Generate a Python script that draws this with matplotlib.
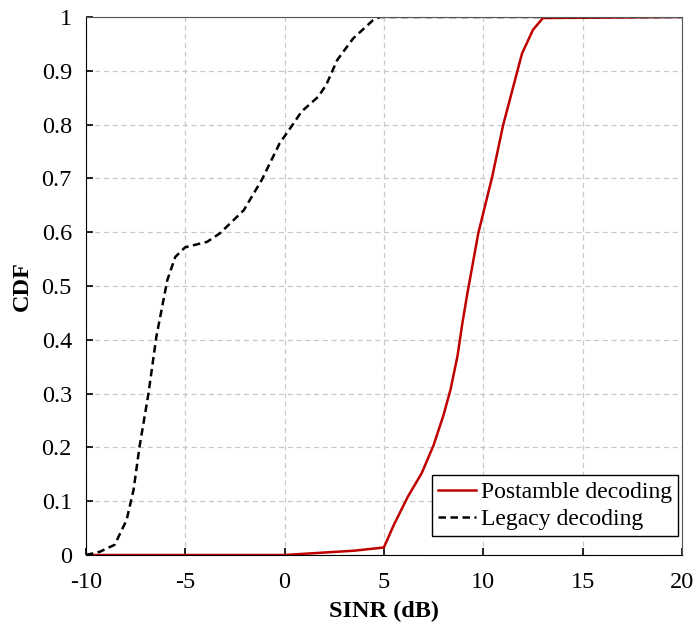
import numpy as np
import matplotlib
matplotlib.use('Agg')
import matplotlib.pyplot as plt

plt.rcParams['font.family'] = ['Liberation Serif', 'DejaVu Serif']
plt.rcParams['axes.unicode_minus'] = False

# postamble decoding CDF
post_x = [-10, 0, 3.5, 5.0, 5.5, 6.2, 6.9, 7.5, 8.0, 8.35, 8.7, 8.95, 9.2, 9.75, 10.45, 11.0, 11.6, 11.95, 12.5, 13.0, 20]
post_y = [0, 0, 0.008, 0.014, 0.056, 0.108, 0.152, 0.204, 0.26, 0.307, 0.369, 0.431, 0.486, 0.598, 0.703, 0.799, 0.883, 0.932, 0.976, 0.998, 1.0]

# legacy decoding CDF
leg_x = [-10, -9.3, -8.55, -7.95, -7.6, -7.3, -6.85, -6.45, -5.9, -5.5, -5.0, -3.9, -3.25, -2.05, -1.15, -0.25, 0.45, 0.85, 1.7, 2.1, 2.65, 3.45, 4.45, 4.8, 20]
leg_y = [0, 0.006, 0.019, 0.065, 0.121, 0.201, 0.3, 0.406, 0.511, 0.554, 0.572, 0.582, 0.598, 0.641, 0.697, 0.765, 0.802, 0.824, 0.852, 0.874, 0.92, 0.96, 0.994, 1.0, 1.0]

fig = plt.figure(figsize=(6.98, 6.34), dpi=100)
ax = fig.add_axes([0.123, 0.1246, 0.854, 0.8486])

ax.plot(post_x, post_y, color='#c00000', lw=1.8, label='Postamble decoding')
ax.plot(leg_x, leg_y, color='black', lw=1.8, ls=(0, (3, 1.8)), label='Legacy decoding')

ax.set_xlim(-10, 20)
ax.set_ylim(0, 1)
ax.set_xticks(np.arange(-10, 21, 5))
ax.set_yticks(np.arange(0, 1.01, 0.1))
ax.set_yticklabels(['0', '0.1', '0.2', '0.3', '0.4', '0.5', '0.6', '0.7', '0.8', '0.9', '1'])
ax.grid(True, ls=(0, (4, 3)), color='#c8c8c8', lw=0.9)
ax.tick_params(direction='in', labelsize=17.5, length=5, width=1.2, pad=10)
ax.tick_params(axis='x', pad=12)
for s in ax.spines.values():
    s.set_color('#555555')
ax.spines['left'].set_color('black')
ax.spines['bottom'].set_color('black')

ax.set_xlabel('SINR (dB)', fontsize=17.5, fontweight='bold', labelpad=6)
ax.set_ylabel('CDF', fontsize=17.5, fontweight='bold', labelpad=6)

leg = ax.legend(loc='lower right', bbox_to_anchor=(0.993, 0.035), fontsize=17, frameon=True,
                fancybox=False, edgecolor='black', framealpha=1, handlelength=1.6,
                handletextpad=0.2, borderpad=0.25, labelspacing=0.25, borderaxespad=0)
leg.get_frame().set_linewidth(1.0)

fig.savefig('out.png', dpi=100)
